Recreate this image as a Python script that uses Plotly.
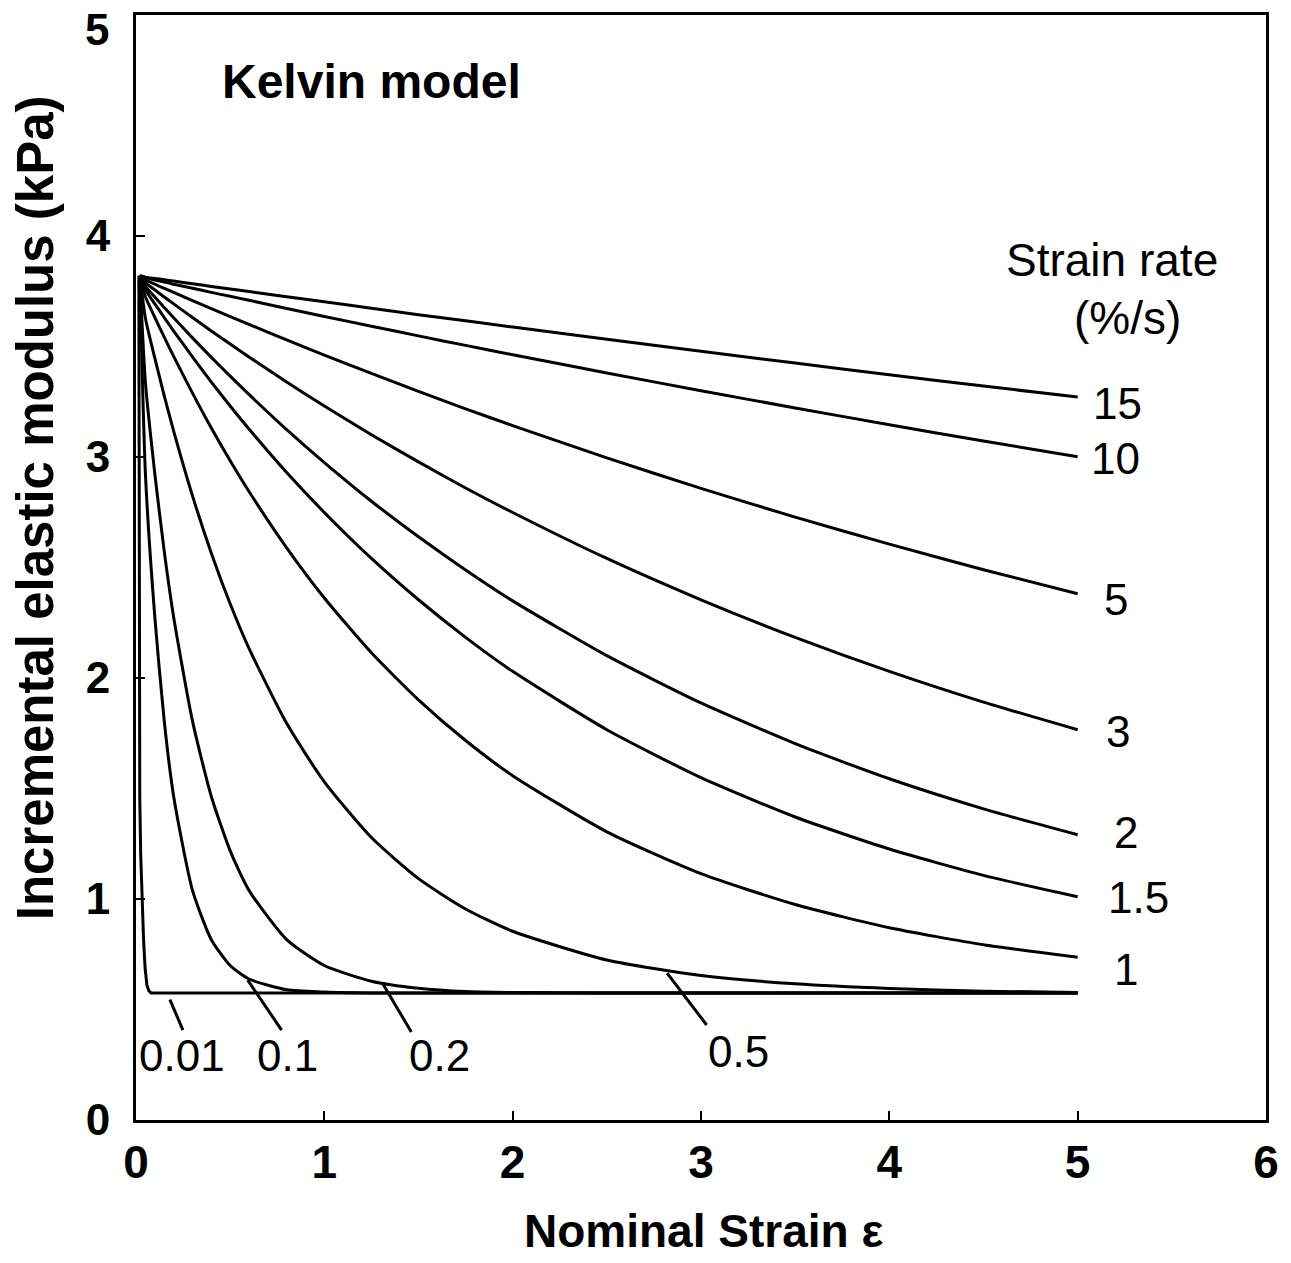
import plotly.graph_objects as go

# ---------------- data ----------------
strain = [0.02, 0.05, 0.1, 0.15, 0.2, 0.3, 0.4, 0.5, 0.6, 0.8, 1.0, 1.25, 1.5,
          1.75, 2.0, 2.5, 3.0, 3.5, 4.0, 4.5, 5.0]

mod_15 = [3.82, 3.814, 3.808, 3.802, 3.796, 3.784, 3.772, 3.760, 3.749, 3.725, 3.702,
          3.673, 3.644, 3.616, 3.588, 3.533, 3.478, 3.425, 3.372, 3.321, 3.271]
mod_10 = [3.82, 3.811, 3.801, 3.792, 3.782, 3.764, 3.745, 3.727, 3.709, 3.672, 3.636,
          3.592, 3.548, 3.505, 3.463, 3.380, 3.300, 3.222, 3.146, 3.072, 3.001]
mod_5 = [3.82, 3.801, 3.782, 3.763, 3.745, 3.708, 3.671, 3.635, 3.600, 3.530, 3.461,
         3.378, 3.297, 3.218, 3.142, 2.996, 2.858, 2.728, 2.606, 2.490, 2.381]
mod_3 = [3.82, 3.788, 3.756, 3.724, 3.693, 3.631, 3.570, 3.511, 3.453, 3.339, 3.231,
         3.101, 2.978, 2.860, 2.749, 2.541, 2.354, 2.184, 2.030, 1.891, 1.766]
mod_2 = [3.82, 3.771, 3.724, 3.676, 3.630, 3.539, 3.451, 3.366, 3.283, 3.124, 2.975,
         2.800, 2.639, 2.489, 2.349, 2.101, 1.887, 1.703, 1.544, 1.408, 1.291]
mod_1_5 = [3.82, 3.756, 3.693, 3.631, 3.570, 3.453, 3.339, 3.231, 3.127, 2.930, 2.749,
           2.541, 2.354, 2.184, 2.030, 1.766, 1.549, 1.371, 1.226, 1.107, 1.010]
mod_1 = [3.82, 3.725, 3.632, 3.542, 3.455, 3.289, 3.131, 2.983, 2.844, 2.589, 2.362,
         2.114, 1.901, 1.717, 1.558, 1.304, 1.115, 0.975, 0.870, 0.793, 0.736]
mod_0_5 = [3.82, 3.628, 3.447, 3.277, 3.117, 2.824, 2.565, 2.336, 2.134, 1.795, 1.530,
           1.278, 1.092, 0.955, 0.854, 0.724, 0.654, 0.616, 0.595, 0.583, 0.577]
mod_0_2 = [3.82, 3.336, 2.924, 2.573, 2.275, 1.805, 1.464, 1.218, 1.039, 0.816, 0.699,
           0.628, 0.596, 0.581, 0.577, 0.575, 0.575, 0.575, 0.575, 0.575, 0.575]
mod_0_1 = [3.82, 2.924, 2.275, 1.805, 1.464, 1.039, 0.816, 0.699, 0.638, 0.589, 0.579,
           0.575, 0.575, 0.575, 0.575, 0.575, 0.575, 0.575, 0.575, 0.575, 0.575]

strain_0_01 = [0.015, 0.02, 0.025, 0.032, 0.04, 0.048, 0.058, 0.068, 0.08, 5.0]
mod_0_01 = [3.82, 1.45, 1.2, 1.0, 0.82, 0.69, 0.61, 0.585, 0.575, 0.575]

right_labels = ["15", "10", "5", "3", "2", "1.5", "1"]
right_label_x = [5.212, 5.201, 5.201, 5.212, 5.254, 5.323, 5.254]
right_label_y = [3.244, 2.995, 2.353, 1.756, 1.303, 1.009, 0.679]

bottom_labels = ["0.01", "0.1", "0.2", "0.5"]
bottom_label_x = [0.244, 0.805, 1.61, 3.2]
bottom_label_y = [0.294, 0.294, 0.294, 0.308]
# leader lines: (curve end) -> (label end)
leader_x0 = [0.18, 0.593, 1.308, 2.82]
leader_y0 = [0.545, 0.633, 0.62, 0.665]
leader_x1 = [0.249, 0.773, 1.462, 3.03]
leader_y1 = [0.407, 0.407, 0.398, 0.43]

x_ticks = [0, 1, 2, 3, 4, 5, 6]
y_ticks = [0, 1, 2, 3, 4, 5]

# ---------------- figure ----------------
fig = go.Figure()
line_style = dict(color="black", width=3, shape="spline", smoothing=0.6)
for ys in [mod_15, mod_10, mod_5, mod_3, mod_2, mod_1_5, mod_1, mod_0_5, mod_0_2, mod_0_1]:
    fig.add_trace(go.Scatter(x=strain, y=ys, mode="lines", line=line_style,
                             showlegend=False, hoverinfo="skip"))
fig.add_trace(go.Scatter(x=strain_0_01, y=mod_0_01, mode="lines",
                         line=dict(color="black", width=3),
                         showlegend=False, hoverinfo="skip"))

for x0, y0, x1, y1 in zip(leader_x0, leader_y0, leader_x1, leader_y1):
    fig.add_shape(type="line", x0=x0, y0=y0, x1=x1, y1=y1,
                  line=dict(color="black", width=3), xref="x", yref="y")

num_font = dict(family="Liberation Sans, Arial, sans-serif", size=44, color="black")
for t, x, y in zip(right_labels, right_label_x, right_label_y):
    fig.add_annotation(x=x, y=y, text=t, showarrow=False, font=num_font,
                       xanchor="center", yanchor="middle")
for t, x, y in zip(bottom_labels, bottom_label_x, bottom_label_y):
    fig.add_annotation(x=x, y=y, text=t, showarrow=False, font=num_font,
                       xanchor="center", yanchor="middle")

fig.add_annotation(x=5.18, y=3.89, text="Strain rate", showarrow=False,
                   font=dict(family="Liberation Sans, Arial, sans-serif", size=46, color="black"),
                   xanchor="center", yanchor="middle")
fig.add_annotation(x=5.265, y=3.63, text="(%/s)", showarrow=False,
                   font=dict(family="Liberation Sans, Arial, sans-serif", size=46, color="black"),
                   xanchor="center", yanchor="middle")

bold = "Liberation Sans, Arial, sans-serif"
fig.add_annotation(x=0.445, y=4.70, text="<b>Kelvin model</b>", showarrow=False,
                   font=dict(family=bold, size=48, color="black"),
                   xanchor="left", yanchor="middle")

fig.add_annotation(xref="paper", yref="paper", x=-0.089, y=0.554,
                   text="<b>Incremental elastic modulus (kPa)</b>", textangle=-90,
                   showarrow=False, font=dict(family=bold, size=51, color="black"),
                   xanchor="center", yanchor="middle")
fig.add_annotation(xref="paper", yref="paper", x=0.502, y=-0.1,
                   text="<b>Nominal Strain ε</b>", showarrow=False,
                   font=dict(family=bold, size=46, color="black"),
                   xanchor="center", yanchor="middle")

# top y tick label (sits just below the frame in the reference)
fig.add_annotation(xref="paper", yref="y", x=-0.022, y=y_ticks[-1], yshift=-14,
                   text=f"<b>{y_ticks[-1]}</b>", showarrow=False,
                   font=dict(family=bold, size=44, color="black"),
                   xanchor="right", yanchor="middle")

fig.update_layout(
    width=1291, height=1263,
    margin=dict(l=136, r=22, t=15, b=143),
    paper_bgcolor="white", plot_bgcolor="white",
    showlegend=False,
)
fig.update_xaxes(
    range=[0, 6], tickvals=x_ticks, ticktext=[f"<b>{v}</b>" for v in x_ticks],
    showgrid=False, zeroline=False, showline=True, linecolor="black", linewidth=3,
    mirror=True, ticks="inside", ticklen=9, tickwidth=2, tickcolor="black",
    tickfont=dict(family="Liberation Sans, Arial", size=46, color="black"),
)
fig.update_yaxes(
    range=[0, 5], tickvals=y_ticks,
    ticktext=[f"<b>{v}</b>" for v in y_ticks[:-1]] + [""],
    showgrid=False, zeroline=False, showline=True, linecolor="black", linewidth=3,
    mirror=True, ticks="inside", ticklen=9, tickwidth=2, tickcolor="black",
    tickfont=dict(family="Liberation Sans, Arial", size=44, color="black"),
    ticklabelstandoff=14,
)

fig.write_html("out.html")
